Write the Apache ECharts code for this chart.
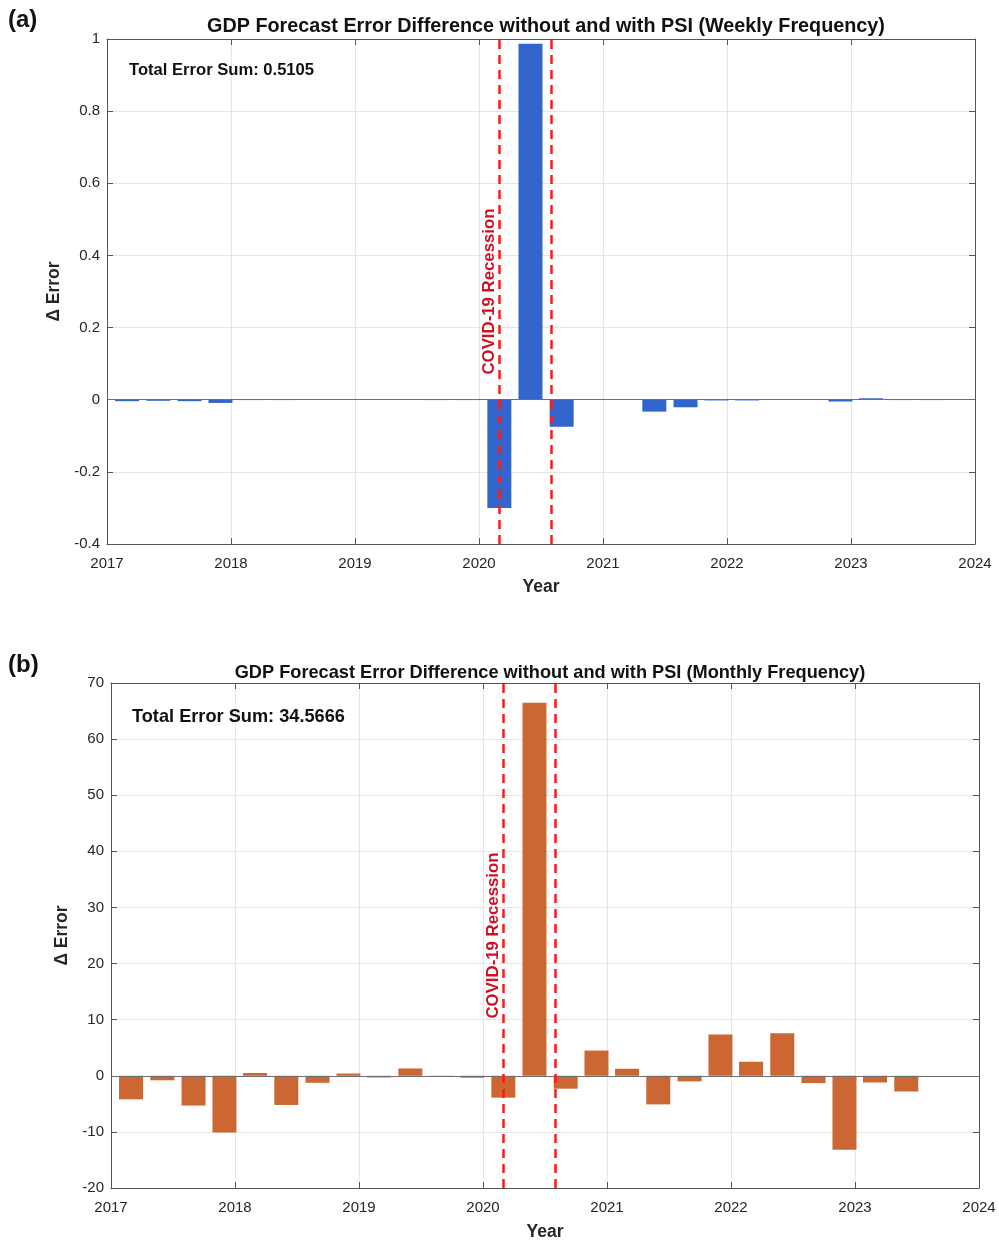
<!DOCTYPE html>
<html>
<head>
<meta charset="utf-8">
<script src="https://cdn.jsdelivr.net/npm/echarts@6/dist/echarts.min.js"></script>
<style>
    html,body{margin:0;padding:0;background:#fff;}
    #chart{width:999px;height:1242px;}
</style>
</head>
<body>
<div id="chart"></div>
<script>
    // quarter dates of the bars (both panels)
    var quarterDates = [
        '2017-03-01','2017-06-01','2017-09-01','2017-12-01',
        '2018-03-01','2018-06-01','2018-09-01','2018-12-01',
        '2019-03-01','2019-06-01','2019-09-01','2019-12-01',
        '2020-03-01','2020-06-01','2020-09-01','2020-12-01',
        '2021-03-01','2021-06-01','2021-09-01','2021-12-01',
        '2022-03-01','2022-06-01','2022-09-01','2022-12-01',
        '2023-03-01','2023-06-01','2023-09-01'
    ];
    // delta error, weekly frequency model
    var weeklyDiff = [-0.004,-0.003,-0.004,-0.009,-0.001,-0.001,0.002,0,0,0,-0.001,-0.001,
                      -0.30,0.987,-0.075,0.002,0,-0.033,-0.021,-0.002,-0.002,0,0,-0.005,
                      0.004,-0.001,-0.001];
    // delta error, monthly frequency model
    var monthlyDiff = [-4.2,-0.8,-5.3,-10.1,0.5,-5.2,-1.25,0.4,-0.3,1.3,-0.1,-0.35,
                       -3.9,66.5,-2.3,4.5,1.25,-5.1,-1.0,7.35,2.5,7.6,-1.3,-13.2,
                       -1.2,-2.8];
    var covidDates = ['2020-03-01','2020-08-01'];
    var yearTicks = [2017,2024];
    var weeklyY = [-0.4,1,0.2];
    var monthlyY = [-20,70,10];

    function toYear(s){
        var d=Date.parse(s+'T00:00:00Z');
        var y=new Date(d).getUTCFullYear();
        var a=Date.UTC(y,0,1),b=Date.UTC(y+1,0,1);
        return y+(d-a)/(b-a);
    }
    function pairs(vals){
        return vals.map(function(v,i){return [toYear(quarterDates[i]),v];});
    }

    var FONT='"Liberation Sans", Arial, Helvetica, sans-serif';
    var AX='#555555', TXT='#262626', GRIDC='#e6e6e6';

    function xAxes(gi,gap){
        return [{
            type:'value',gridIndex:gi,min:yearTicks[0],max:yearTicks[1],interval:1,
            name:'Year',nameLocation:'middle',nameGap:gap,
            nameTextStyle:{fontFamily:FONT,fontSize:17.5,fontWeight:'bold',color:TXT},
            axisLine:{show:true,onZero:false,lineStyle:{color:AX,width:1}},
            axisTick:{show:true,inside:true,length:6,lineStyle:{color:AX}},
            axisLabel:{fontFamily:FONT,fontSize:15,color:TXT,margin:12,
                formatter:function(v){return String(v);}},
            splitLine:{show:true,lineStyle:{color:GRIDC}}
        },{
            type:'value',gridIndex:gi,position:'top',min:yearTicks[0],max:yearTicks[1],interval:1,
            axisLine:{show:true,onZero:false,lineStyle:{color:AX,width:1}},
            axisTick:{show:true,inside:true,length:6,lineStyle:{color:AX}},
            axisLabel:{show:false},splitLine:{show:false}
        }];
    }
    function yAxes(gi,r,gap){
        return [{
            type:'value',gridIndex:gi,min:r[0],max:r[1],interval:r[2],
            name:'\u0394 Error',nameLocation:'middle',nameGap:gap,
            nameTextStyle:{fontFamily:FONT,fontSize:17.5,fontWeight:'bold',color:TXT},
            axisLine:{show:true,onZero:false,lineStyle:{color:AX,width:1}},
            axisTick:{show:true,inside:true,length:6,lineStyle:{color:AX}},
            axisLabel:{fontFamily:FONT,fontSize:15,color:TXT,margin:7,
                formatter:function(v){return String(Math.round(v*10)/10);}},
            splitLine:{show:true,lineStyle:{color:GRIDC}}
        },{
            type:'value',gridIndex:gi,position:'right',min:r[0],max:r[1],interval:r[2],
            axisLine:{show:true,onZero:false,lineStyle:{color:AX,width:1}},
            axisTick:{show:true,inside:true,length:6,lineStyle:{color:AX}},
            axisLabel:{show:false},splitLine:{show:false}
        }];
    }
    function markLines(){
        return {
            silent:true,symbol:'none',animation:false,
            data:[
                {yAxis:0,lineStyle:{color:'#6e6e6e',width:1.2,type:'solid'},label:{show:false}},
                {xAxis:toYear(covidDates[0]),lineStyle:{color:'#ff1a1a',width:2.5,type:[9,6]},
                    label:{show:true,formatter:'COVID-19 Recession',position:'insideMiddleTop',
                        fontFamily:FONT,fontSize:16.8,fontWeight:'bold',color:'#d01020',distance:1}},
                {xAxis:toYear(covidDates[1]),lineStyle:{color:'#ff1a1a',width:2.5,type:[9,6]},
                    label:{show:false}}
            ]
        };
    }

    var chart=echarts.init(document.getElementById('chart'));
    var option={
        animation:false,
        backgroundColor:'#fff',
        title:[
            {text:'(a)',left:3,top:3,textStyle:{fontFamily:FONT,fontSize:24,fontWeight:'bold',color:'#111'}},
            {text:'GDP Forecast Error Difference without and with PSI (Weekly Frequency)',left:541,top:12,textAlign:'center',
                textStyle:{fontFamily:FONT,fontSize:19.8,fontWeight:'bold',color:'#111'}},
            {text:'Total Error Sum: 0.5105',left:124,top:57,
                textStyle:{fontFamily:FONT,fontSize:16.6,fontWeight:'bold',color:'#111'}},
            {text:'(b)',left:3,top:648,textStyle:{fontFamily:FONT,fontSize:24,fontWeight:'bold',color:'#111'}},
            {text:'GDP Forecast Error Difference without and with PSI (Monthly Frequency)',left:545,top:659,textAlign:'center',
                textStyle:{fontFamily:FONT,fontSize:18.2,fontWeight:'bold',color:'#111'}},
            {text:'Total Error Sum: 34.5666',left:127,top:703,
                textStyle:{fontFamily:FONT,fontSize:18.2,fontWeight:'bold',color:'#111'}}
        ],
        grid:[
            {left:107,right:24,top:39,height:505,containLabel:false},
            {left:111,right:20,top:683,height:508,containLabel:false}
        ],
        xAxis:xAxes(0,34).concat(xAxes(1,35)),
        yAxis:yAxes(0,weeklyY,41).concat(yAxes(1,monthlyY,39)),
        series:[
            {type:'bar',name:'weekly',xAxisIndex:0,yAxisIndex:0,barWidth:24,
                itemStyle:{color:'#3366cc'},data:pairs(weeklyDiff),markLine:markLines()},
            {type:'bar',name:'monthly',xAxisIndex:2,yAxisIndex:2,barWidth:24,
                itemStyle:{color:'#cc6633'},data:pairs(monthlyDiff),markLine:markLines()}
        ]
    };
    chart.setOption(option);
    window.addEventListener('resize',chart.resize);
</script>
</body>
</html>
